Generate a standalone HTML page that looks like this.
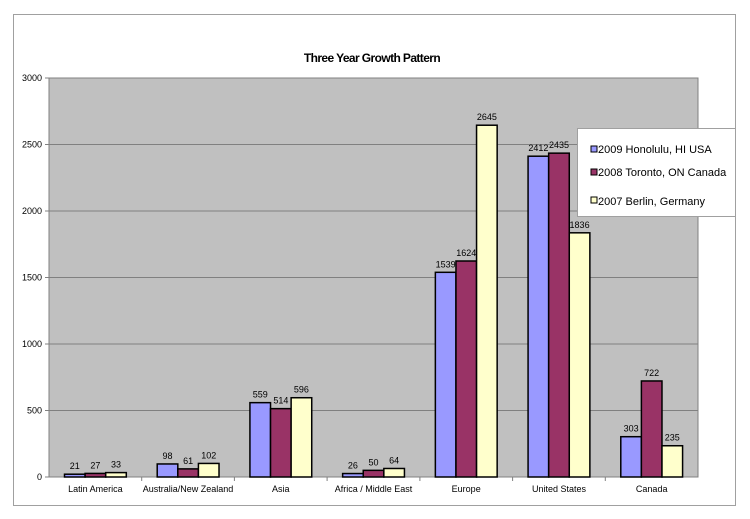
<!DOCTYPE html>
<html><head><style>
html,body{margin:0;padding:0;background:#fff;}
svg{display:block;font-family:"Liberation Sans",Arial,sans-serif;}
</style></head><body>
<svg width="750" height="519" viewBox="0 0 750 519" xmlns="http://www.w3.org/2000/svg">
<rect x="13.5" y="14.5" width="722" height="491" fill="#fff" stroke="#a0a0a0" stroke-width="1"/>
<text x="372" y="62" text-anchor="middle" font-size="12" font-weight="bold" letter-spacing="-0.6">Three Year Growth Pattern</text>
<rect x="49" y="78" width="649" height="399" fill="#c0c0c0" stroke="#808080" stroke-width="1"/>
<g stroke="#808080" stroke-width="1">
<line x1="49" x2="698" y1="144.5" y2="144.5"/>
<line x1="49" x2="698" y1="211" y2="211"/>
<line x1="49" x2="698" y1="277.5" y2="277.5"/>
<line x1="49" x2="698" y1="344" y2="344"/>
<line x1="49" x2="698" y1="410.5" y2="410.5"/>
<line x1="45" x2="49" y1="78" y2="78"/><line x1="45" x2="49" y1="144.5" y2="144.5"/><line x1="45" x2="49" y1="211" y2="211"/><line x1="45" x2="49" y1="277.5" y2="277.5"/><line x1="45" x2="49" y1="344" y2="344"/><line x1="45" x2="49" y1="410.5" y2="410.5"/><line x1="45" x2="49" y1="477" y2="477"/>
<line x1="141.7" x2="141.7" y1="477" y2="481"/><line x1="234.4" x2="234.4" y1="477" y2="481"/><line x1="327.1" x2="327.1" y1="477" y2="481"/><line x1="419.9" x2="419.9" y1="477" y2="481"/><line x1="512.6" x2="512.6" y1="477" y2="481"/><line x1="605.3" x2="605.3" y1="477" y2="481"/>
</g>
<g font-size="9" text-anchor="end" fill="#000">
<text x="42" y="81">3000</text><text x="42" y="147.5">2500</text><text x="42" y="214">2000</text><text x="42" y="280.5">1500</text><text x="42" y="347">1000</text><text x="42" y="413.5">500</text><text x="42" y="480">0</text>
</g>
<g font-size="9" text-anchor="middle" fill="#000">
<text x="95.4" y="492">Latin America</text>
<text x="188" y="492">Australia/New Zealand</text>
<text x="280.8" y="492">Asia</text>
<text x="373.5" y="492">Africa / Middle East</text>
<text x="466.2" y="492">Europe</text>
<text x="559" y="492">United States</text>
<text x="651.7" y="492">Canada</text>
</g>
<g id="bars" stroke="#000" stroke-width="1.5"></g>
<g id="labels" font-size="9" text-anchor="middle" fill="#000"></g>
<rect x="577.5" y="128.5" width="158" height="88" fill="#fff" stroke="#a0a0a0"/>
<rect x="591" y="146" width="6" height="6" fill="#9999ff" stroke="#000"/>
<rect x="591" y="169" width="6" height="6" fill="#993366" stroke="#000"/>
<rect x="591" y="197" width="6" height="6" fill="#ffffcc" stroke="#000"/>
<g font-size="11" fill="#000">
<text x="598" y="153">2009 Honolulu, HI USA</text>
<text x="598" y="176">2008 Toronto, ON Canada</text>
<text x="598" y="205">2007 Berlin, Germany</text>
</g>
<script>
var d=[[21,27,33],[98,61,102],[559,514,596],[26,50,64],[1539,1624,2645],[2412,2435,1836],[303,722,235]];
var c=["#9999ff","#993366","#ffffcc"];
var b=document.getElementById("bars"),l=document.getElementById("labels"),ns="http://www.w3.org/2000/svg";
var cw=649/7,bw=20.6;
d.forEach(function(g,i){g.forEach(function(v,j){
var x=49+i*cw+15.5+j*bw,h=v*399/3000,y=477-h;
var r=document.createElementNS(ns,"rect");r.setAttribute("x",x);r.setAttribute("y",y);r.setAttribute("width",bw);r.setAttribute("height",h);r.setAttribute("fill",c[j]);b.appendChild(r);
var t=document.createElementNS(ns,"text");t.setAttribute("x",x+bw/2);t.setAttribute("y",y-5);t.textContent=v;l.appendChild(t);
});});
</script>
</svg>
</body></html>
